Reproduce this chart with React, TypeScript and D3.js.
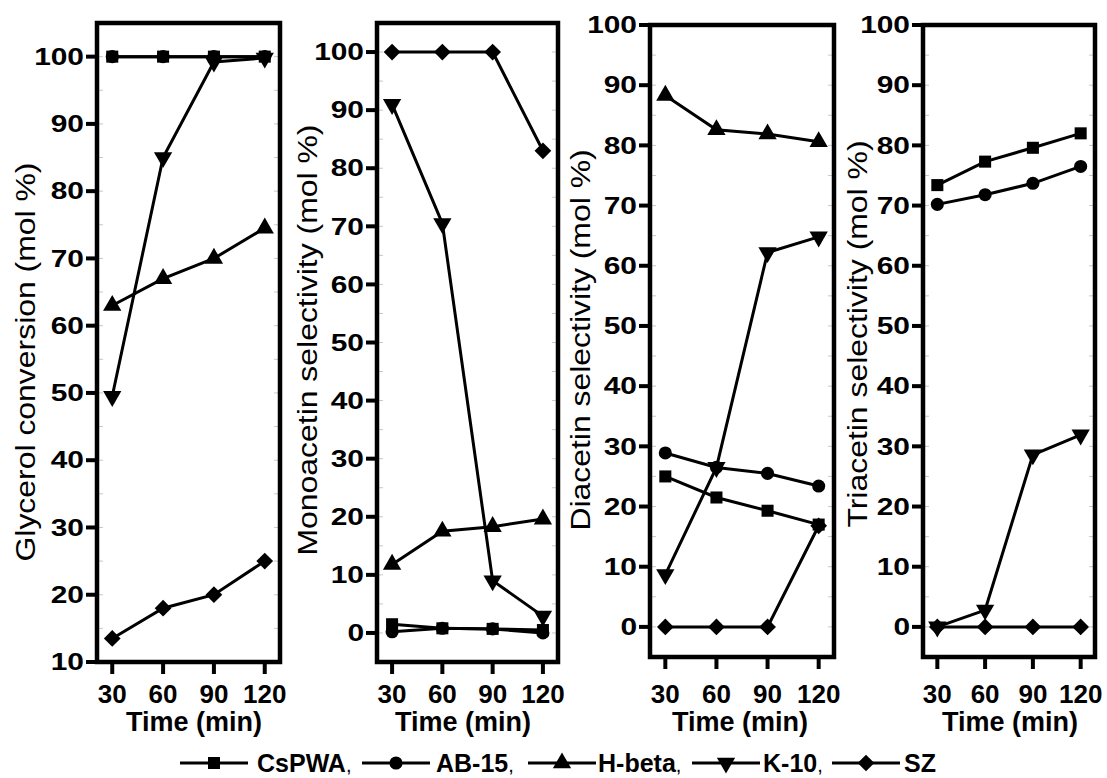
import React from "react";
import * as d3 from "d3";

// ---------- data ----------
const times = [30, 60, 90, 120];
const catalysts = ["CsPWA", "AB-15", "H-beta", "K-10", "SZ"];

// rows follow catalysts order
const glycerolConversion: (number | null)[][] = [
  [100, 100, 100, 100],
  [100, 100, 100, 100],
  [63, 67, 70, 74.5],
  [49.5, 85, 99.2, 99.8],
  [13.5, 18, 20, 25],
];
const monoacetinSelectivity: (number | null)[][] = [
  [1.5, 0.8, 0.7, 0.5],
  [0.2, 0.8, 0.7, 0],
  [11.8, 17.5, 18.3, 19.6],
  [91, 70.5, 9, 2.9],
  [100, 100, 100, 83],
];
const diacetinSelectivity: (number | null)[][] = [
  [25, 21.5, 19.3, 17],
  [28.9, 26.5, 25.5, 23.4],
  [88.3, 82.6, 81.9, 80.6],
  [8.7, 26.5, 62.2, 64.8],
  [0, 0, 0, 16.8],
];
const triacetinSelectivity: (number | null)[][] = [
  [73.4, 77.3, 79.6, 82],
  [70.2, 71.8, 73.7, 76.5],
  [null, null, null, null],
  [0, 2.8, 28.6, 31.9],
  [0, 0, 0, 0],
];
const panelTitles = [
  "Glycerol conversion (mol %)",
  "Monoacetin selectivity (mol %)",
  "Diacetin selectivity (mol %)",
  "Triacetin selectivity (mol %)",
];
const yTicksConversion = [10, 20, 30, 40, 50, 60, 70, 80, 90, 100];
const yTicksSelectivity = [0, 10, 20, 30, 40, 50, 60, 70, 80, 90, 100];
const xLabel = "Time (min)";

// ---------- layout ----------
const W = 1107;
const H = 778;
const FONT = "'Liberation Sans', Arial, Helvetica, sans-serif";

type Panel = {
  data: (number | null)[][];
  title: string;
  yDomain: [number, number];
  yTicks: number[];
  x0: number;
  x1: number;
  yTop: number;
  yBot: number;
  titleX: number;
  titleY: number;
  labelX: number;
};

const panels: Panel[] = [
  { data: glycerolConversion, title: panelTitles[0], yDomain: [10, 105], yTicks: yTicksConversion, x0: 97, x1: 280, yTop: 23, yBot: 662, titleX: 35, titleY: 362, labelX: 194 },
  { data: monoacetinSelectivity, title: panelTitles[1], yDomain: [-5, 105], yTicks: yTicksSelectivity, x0: 377, x1: 558, yTop: 23, yBot: 662, titleX: 317, titleY: 340, labelX: 463 },
  { data: diacetinSelectivity, title: panelTitles[2], yDomain: [-5, 100], yTicks: yTicksSelectivity, x0: 650, x1: 834, yTop: 25, yBot: 657, titleX: 590, titleY: 340, labelX: 740 },
  { data: triacetinSelectivity, title: panelTitles[3], yDomain: [-5, 100], yTicks: yTicksSelectivity, x0: 923, x1: 1095, yTop: 25, yBot: 657, titleX: 867, titleY: 334, labelX: 1010 },
];

const symbolTypes = [d3.symbolSquare, d3.symbolCircle, d3.symbolTriangle, d3.symbolTriangle, d3.symbolSquare];
const symbolSizes = [145, 135, 145, 145, 140];
const symbolRot = [0, 0, 0, 180, 45];

function Marker({ i, x, y }: { i: number; x: number; y: number }) {
  const p = d3.symbol().type(symbolTypes[i]).size(symbolSizes[i])() as string;
  return <path d={p} transform={`translate(${x},${y}) rotate(${symbolRot[i]})`} fill="#000" />;
}

function PanelView({ p }: { p: Panel }) {
  const x = d3.scaleLinear().domain([21, 129]).range([p.x0, p.x1]);
  const y = d3.scaleLinear().domain(p.yDomain).range([p.yBot, p.yTop]);
  const line = d3
    .line<[number, number | null]>()
    .defined((d) => d[1] != null)
    .x((d) => x(d[0]))
    .y((d) => y(d[1] as number));
  const minor = d3.range(Math.ceil(p.yDomain[0] / 5) * 5, p.yDomain[1] + 0.01, 5);
  return (
    <g>
      {/* minor inner ticks */}
      {minor.map((v) => (
        <g key={"m" + v} stroke="#c8c8c8" strokeWidth={1}>
          <line x1={p.x0} x2={p.x0 + 6} y1={y(v)} y2={y(v)} />
          <line x1={p.x1} x2={p.x1 - 6} y1={y(v)} y2={y(v)} />
        </g>
      ))}
      {/* series lines */}
      {p.data.map((vals, si) => (
        <path
          key={"l" + si}
          d={line(times.map((t, k) => [t, vals[k]] as [number, number | null])) || ""}
          fill="none"
          stroke="#000"
          strokeWidth={3}
        />
      ))}
      {/* markers */}
      {p.data.map((vals, si) =>
        vals.map((v, k) => (v == null ? null : <Marker key={`p${si}-${k}`} i={si} x={x(times[k])} y={y(v)} />))
      )}
      {/* frame */}
      <rect x={p.x0} y={p.yTop} width={p.x1 - p.x0} height={p.yBot - p.yTop} fill="none" stroke="#000" strokeWidth={4.5} />
      {/* y ticks */}
      {p.yTicks.map((v) => (
        <g key={"y" + v}>
          <line x1={p.x0 - 11} x2={p.x0} y1={y(v)} y2={y(v)} stroke="#000" strokeWidth={4} />
          <text
            transform={`translate(${p.x0 - 13},${y(v) + 8.2}) scale(1.3,1)`}
            textAnchor="end"
            fontFamily={FONT}
            fontWeight="bold"
            fontSize={23}
            fill="#000"
          >
            {v}
          </text>
        </g>
      ))}
      {/* x ticks */}
      {times.map((t) => (
        <g key={"x" + t}>
          <line x1={x(t)} x2={x(t)} y1={p.yBot} y2={p.yBot + 12} stroke="#000" strokeWidth={4} />
          <text x={x(t)} y={703} textAnchor="middle" fontFamily={FONT} fontWeight="bold" fontSize={26} fill="#000">
            {t}
          </text>
        </g>
      ))}
      <text x={p.labelX} y={731} textAnchor="middle" fontFamily={FONT} fontWeight="bold" fontSize={27} fill="#000">
        {xLabel}
      </text>
      <text
        transform={`translate(${p.titleX},${p.titleY}) rotate(-90) scale(1.14,1)`}
        textAnchor="middle"
        fontFamily={FONT}
        fontSize={28}
        fill="#000"
      >
        {p.title}
      </text>
    </g>
  );
}

const legendLineX = [180, 362, 528, 692, 832];
const legendTextX = [257, 436, 598, 763, 904];

export default function App() {
  return (
    <svg
      width={W}
      height={H}
      viewBox={`0 0 ${W} ${H}`}
      style={{ position: "absolute", left: 0, top: 0, display: "block", background: "#fff" }}
    >
      <rect x={0} y={0} width={W} height={H} fill="#fff" />
      {panels.map((p, i) => (
        <PanelView key={i} p={p} />
      ))}
      {catalysts.map((c, i) => (
        <g key={c}>
          <line x1={legendLineX[i]} x2={legendLineX[i] + 68} y1={763} y2={763} stroke="#000" strokeWidth={3} />
          <Marker i={i} x={legendLineX[i] + 34} y={763} />
          <text x={legendTextX[i]} y={772} fontFamily={FONT} fontWeight="bold" fontSize={25} fill="#000">
            {c}
            {i < catalysts.length - 1 ? (
              <tspan fontWeight="normal" fontSize={20}>
                ,
              </tspan>
            ) : null}
          </text>
        </g>
      ))}
    </svg>
  );
}
